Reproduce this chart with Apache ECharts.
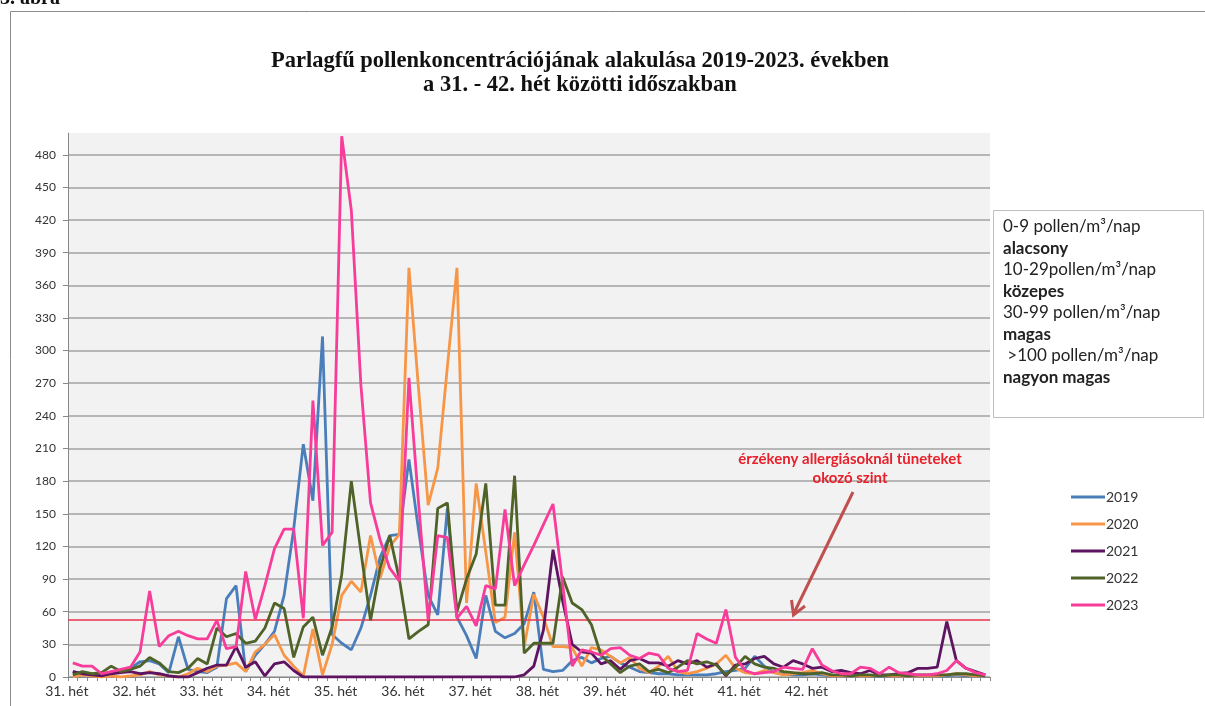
<!DOCTYPE html>
<html><head><meta charset="utf-8">
<script src="https://cdn.jsdelivr.net/npm/echarts@6/dist/echarts.min.js"></script>
<style>html,body{margin:0;padding:0;background:#fff;overflow:hidden}#c{width:1205px;height:706px}</style>
</head><body><div id="c"></div>
<script>
// ---- data ----
const weekLabels = ['31. hét','32. hét','33. hét','34. hét','35. hét','36. hét','37. hét','38. hét','39. hét','40. hét','41. hét','42. hét'];
const yearNames = ['2019','2020','2021','2022','2023'];
const yearColors = ['#4A7EBB','#F79646','#5E1460','#4F6228','#F83C9A'];
const s2019 = [5,3,2,2,4,6,8,14,15,12,4,37,7,5,4,9,72,84,5,20,30,42,75,136,214,162,313,39,31,25,45,75,110,130,131,200,135,75,57,155,55,38,17,75,42,36,40,49,78,7,5,6,15,18,13,17,19,13,9,5,4,3,3,2,2,2,2,3,5,6,8,19,10,4,3,2,2,3,2,1,1,2,2,1,1,1,2,1,1,1,1,1,2,1,1,1];
const s2020 = [0,2,1,0,1,0,1,2,5,2,1,0,3,8,5,10,11,13,5,23,30,39,20,10,1,44,2,30,75,88,78,130,91,120,131,376,265,158,192,285,376,68,178,115,50,55,133,28,76,55,28,28,27,10,27,25,19,13,18,8,4,10,19,5,3,5,8,12,20,8,4,3,6,4,2,3,4,6,3,1,1,2,1,1,2,1,1,1,1,1,1,2,3,2,1,1];
const s2021 = [5,3,2,1,3,4,5,3,4,3,1,0,0,4,8,11,11,28,9,14,1,12,14,6,0,0,0,0,0,0,0,0,0,0,0,0,0,0,0,0,0,0,0,0,0,0,0,2,10,43,117,70,30,23,22,12,15,7,15,17,13,13,10,15,12,15,9,12,1,11,12,17,19,12,9,15,12,8,9,5,6,4,3,6,2,2,3,4,8,8,9,51,15,8,5,2];
const s2022 = [2,5,3,4,10,5,7,10,18,13,5,4,8,17,12,45,37,40,31,33,45,68,63,18,46,55,20,46,94,180,115,52,100,130,90,35,42,48,155,160,60,90,113,178,66,66,185,22,31,31,31,92,68,62,48,20,12,4,10,12,5,7,4,9,15,12,14,11,2,9,19,12,9,8,5,4,3,3,4,2,2,1,2,2,1,2,2,1,2,2,2,2,3,3,2,1];
const s2023 = [13,10,10,3,5,7,9,23,79,28,38,42,38,35,35,52,26,28,97,53,84,118,136,136,54,254,121,133,497,429,268,160,126,100,88,275,160,52,130,128,54,65,47,84,81,154,84,103,121,140,159,86,10,25,23,20,26,27,20,17,22,20,8,5,6,40,35,31,62,18,6,3,4,5,9,8,7,26,11,6,3,3,9,8,3,9,4,3,2,2,3,6,15,8,4,2];
const yearData = [s2019, s2020, s2021, s2022, s2023];
const thresholdValue = 53;
const yMin = 0, yMax = 500, yStep = 30;
const titleLines = ['Parlagfű pollenkoncentrációjának alakulása 2019-2023. években', 'a 31. - 42. hét közötti időszakban'];
const infoLines = [
  ['n','0-9 pollen/m³/nap'], ['b','alacsony'],
  ['n','10-29pollen/m³/nap'], ['b','közepes'],
  ['n','30-99 pollen/m³/nap'], ['b','magas'],
  ['n',' >100 pollen/m³/nap'], ['b','nagyon magas']
];
const noteLines = ['érzékeny allergiásoknál tüneteket', 'okozó szint'];
const figureLabel = '3. ábra';

// categories built from the week labels (7 days per week label)
const dayCount = s2019.length;
const categories = Array.from({length: dayCount}, (_, i) => (i % 7 === 0 && weekLabels[i / 7]) ? weekLabels[i / 7] : '');

const chart = echarts.init(document.getElementById('c'), null, {renderer: 'canvas'});
const sans = 'Lato, "Open Sans", sans-serif';

const series = yearNames.map((name, k) => ({
  name, type: 'line', data: yearData[k], symbol: 'none', showSymbol: false,
  lineStyle: {width: 2.8, color: yearColors[k]}, itemStyle: {color: yearColors[k]},
  z: 3 + k, animation: false
}));
series[0].markLine = {
  silent: true, symbol: 'none', animation: false,
  label: {show: false},
  lineStyle: {color: '#E8334A', width: 1.5, type: 'solid'},
  data: [{yAxis: thresholdValue}]
};

chart.setOption({
  animation: false,
  backgroundColor: '#ffffff',
  title: {
    text: titleLines.join('\n'), left: 575, top: 44, textAlign: 'center',
    textStyle: {fontFamily: '"Liberation Serif", "Times New Roman", serif', fontWeight: 'bold', fontSize: 22.5, lineHeight: 24, color: '#111'}
  },
  grid: {left: 68, right: 215, top: 133, bottom: 29, show: true, backgroundColor: '#F2F2F2', borderWidth: 0},
  legend: {
    data: yearNames, orient: 'vertical', left: 1066, top: 485, icon: 'rect',
    itemWidth: 34, itemHeight: 3, itemGap: 13,
    textStyle: {fontFamily: sans, fontSize: 14, color: '#333', padding: [0,0,0,-4]}
  },
  xAxis: {
    type: 'category', data: categories, boundaryGap: true,
    axisLine: {show: true, lineStyle: {color: '#888', width: 1}},
    axisTick: {show: true, interval: 0, length: 4, lineStyle: {color: '#888'}},
    axisLabel: {interval: 0, fontFamily: sans, fontSize: 14, color: '#333', margin: 7, padding: [0, 12, 0, 0]},
    splitLine: {show: false}
  },
  yAxis: {
    type: 'value', min: yMin, max: yMax, interval: yStep,
    axisLine: {show: true, lineStyle: {color: '#888', width: 1}},
    axisTick: {show: true, length: 5, lineStyle: {color: '#888'}},
    axisLabel: {showMaxLabel: false, fontFamily: sans, fontSize: 12, color: '#333', margin: 12},
    splitLine: {show: true, showMaxLine: false, lineStyle: {color: '#A2A2A2', width: 1.5}}
  },
  series,
  graphic: [
    {type: 'rect', shape: {x: 10.5, y: 11.5, width: 1300, height: 800}, style: {fill: 'none', stroke: '#8C8C8C', lineWidth: 1}, silent: true, z: 0},
    {type: 'text', left: 0, top: -11, style: {text: figureLabel, font: 'bold 20px "Liberation Serif", serif', fill: '#111'}, silent: true},
    {type: 'rect', shape: {x: 993.5, y: 210.5, width: 210, height: 207}, style: {fill: '#fff', stroke: '#BFBFBF', lineWidth: 1}, silent: true, z: 10},
    {type: 'text', x: 1003, y: 216, z: 11, silent: true, style: {
      text: infoLines.map(l => '{' + l[0] + '|' + l[1] + '}').join('\n'),
      rich: {
        n: {fontFamily: sans, fontSize: 17, lineHeight: 21.5, fill: '#222'},
        b: {fontFamily: sans, fontSize: 17, lineHeight: 21.5, fontWeight: 'bold', fill: '#222'}
      }
    }},
    {type: 'text', x: 850, y: 450, z: 12, silent: true, style: {
      text: noteLines.join('\n'), align: 'center', font: 'bold 15px ' + sans, fill: '#E8202A', lineHeight: 19
    }},
    {type: 'line', z: 12, silent: true, shape: {x1: 853, y1: 492, x2: 794, y2: 613}, style: {stroke: '#C0504D', lineWidth: 3}},
    {type: 'polyline', z: 12, silent: true, shape: {points: [[791.5, 600], [793.5, 615], [805, 606]]}, style: {stroke: '#C0504D', lineWidth: 3, fill: 'none', lineJoin: 'miter'}}
  ]
});
</script></body></html>
